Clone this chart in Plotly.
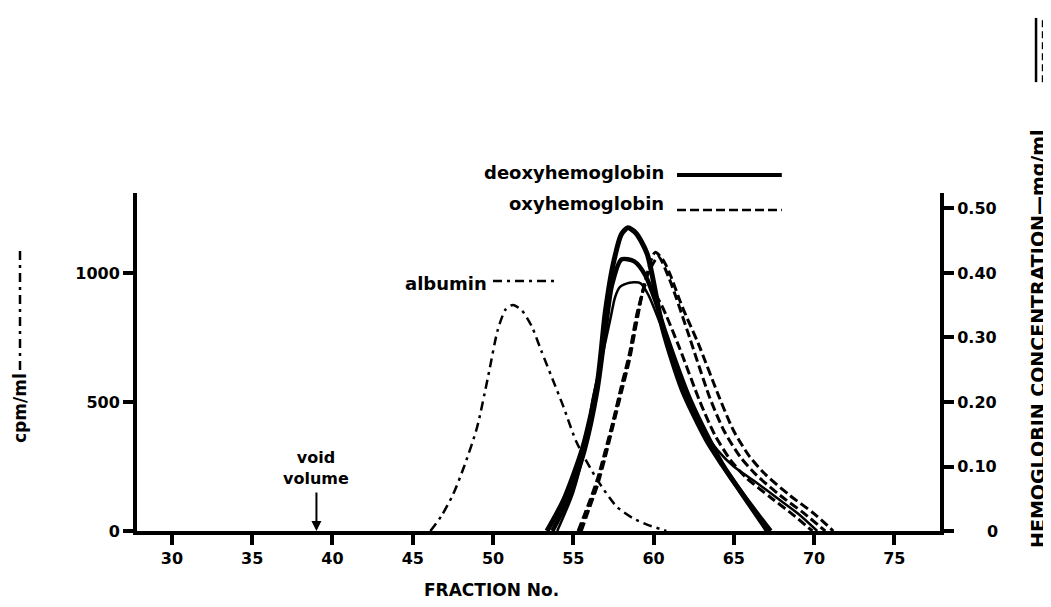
import plotly.graph_objects as go

# ---------------- data ----------------
albumin_x = [46.1, 46.8, 47.5, 48.2, 49.0, 49.7, 50.3, 50.8, 51.25, 51.8, 52.4, 53.0, 53.7, 54.4, 55.2, 56.5, 57.7, 58.7, 59.6, 60.8]
albumin_y = [0, 60, 140, 250, 400, 600, 780, 860, 876, 855, 795, 700, 590, 480, 345, 198, 95, 50, 25, 0]

deoxy1_x = [53.36, 54.4, 55.6, 56.5, 57.0, 57.5, 58.0, 58.4, 58.9, 59.6, 60.6, 61.8, 63.3, 64.3, 65.4, 67.1]
deoxy1_y = [0, 0.048, 0.13, 0.229, 0.34, 0.415, 0.46, 0.47, 0.462, 0.43, 0.311, 0.218, 0.141, 0.102, 0.062, 0]

deoxy2_x = [53.7, 54.7, 55.7, 56.5, 57.0, 57.4, 58.0, 58.8, 59.5, 60.1, 60.7, 62.3, 64.5, 67.3]
deoxy2_y = [0, 0.05, 0.125, 0.218, 0.31, 0.38, 0.421, 0.418, 0.396, 0.358, 0.311, 0.203, 0.095, 0]

deoxy3_x = [54.0, 55.0, 55.8, 56.2, 56.8, 57.3, 57.6, 57.9, 58.5, 59.2, 59.7, 60.7, 62.1, 63.0, 64.0, 65.0, 66.3, 67.6, 69.0, 70.2]
deoxy3_y = [0, 0.06, 0.14, 0.203, 0.27, 0.327, 0.362, 0.378, 0.385, 0.384, 0.365, 0.303, 0.207, 0.16, 0.125, 0.1, 0.077, 0.053, 0.027, 0]

oxy1_x = [55.5, 56.0, 56.5, 57.0, 57.5, 58.0, 58.5, 59.0, 59.5, 60.1, 60.6, 61.0, 61.8, 62.8, 64.1, 65.0, 66.0, 67.0, 68.5, 70.0, 71.2]
oxy1_y = [0, 0.035, 0.07, 0.115, 0.165, 0.215, 0.265, 0.33, 0.39, 0.432, 0.42, 0.40, 0.347, 0.29, 0.207, 0.155, 0.115, 0.087, 0.055, 0.027, 0]

oxy2_x = [55.4, 56.0, 56.5, 57.0, 57.5, 58.0, 58.5, 59.0, 59.6, 60.3, 61.0, 62.1, 63.5, 64.4, 65.4, 66.4, 67.9, 69.4, 70.7]
oxy2_y = [0, 0.04, 0.075, 0.12, 0.17, 0.22, 0.27, 0.335, 0.395, 0.425, 0.39, 0.311, 0.207, 0.155, 0.115, 0.087, 0.055, 0.027, 0]

oxy3_x = [55.3, 56.0, 56.5, 57.0, 57.5, 58.0, 58.5, 59.0, 59.6, 60.5, 61.6, 62.9, 63.8, 64.8, 65.8, 67.3, 68.7, 69.9]
oxy3_y = [0, 0.045, 0.08, 0.125, 0.172, 0.225, 0.275, 0.34, 0.385, 0.35, 0.285, 0.2, 0.15, 0.11, 0.082, 0.052, 0.025, 0]

x_ticks = [30, 35, 40, 45, 50, 55, 60, 65, 70, 75]
cpm_ticks = [0, 500, 1000]
hb_ticks = [0, 0.1, 0.2, 0.3, 0.4, 0.5]
hb_ticktext = ["", "0.10", "0.20", "0.30", "0.40", "0.50"]
void_volume_fraction = 39

FONT = "DejaVu Sans"
def f(size):
    return dict(family=FONT, size=size, color="black", weight="bold")

DASHDOT = "9px,5px,3px,5px"
DASH = "9px,4px"

fig = go.Figure()

fig.add_trace(go.Scatter(x=albumin_x, y=albumin_y, mode="lines",
                         line=dict(color="black", width=2.5, dash=DASHDOT, shape="spline", smoothing=0.7), yaxis="y"))

for xs, ys, w in [(deoxy1_x, deoxy1_y, 5), (deoxy2_x, deoxy2_y, 4.5), (deoxy3_x, deoxy3_y, 2.5)]:
    fig.add_trace(go.Scatter(x=xs, y=ys, mode="lines",
                             line=dict(color="black", width=w, shape="spline", smoothing=0.7), yaxis="y2"))

for xs, ys in [(oxy1_x, oxy1_y), (oxy2_x, oxy2_y), (oxy3_x, oxy3_y)]:
    fig.add_trace(go.Scatter(x=xs, y=ys, mode="lines",
                             line=dict(color="black", width=3, dash=DASH, shape="spline", smoothing=0.7), yaxis="y2"))

axis_common = dict(showgrid=False, zeroline=False, showline=True, linewidth=4, linecolor="black",
                   ticks="outside", ticklen=10, tickwidth=4, tickcolor="black", tickfont=f(16))

# page body adds an 8px offset, so figure is 8px smaller and margins compensate
fig.update_layout(
    width=1043, height=599,
    margin=dict(l=129, r=111, t=185, b=76),
    paper_bgcolor="white", plot_bgcolor="white",
    showlegend=False,
    xaxis=dict(range=[27.82, 77.85], tickvals=x_ticks, **axis_common),
    yaxis=dict(range=[0, 1310], tickvals=cpm_ticks, **axis_common),
    yaxis2=dict(range=[0, 0.524], tickvals=hb_ticks, ticktext=hb_ticktext,
                overlaying="y", side="right", **axis_common),
)

ann = []
ann.append(dict(x=void_volume_fraction, y=0, xref="x", yref="y", text="", showarrow=True,
                arrowhead=2, arrowsize=1, arrowwidth=2, arrowcolor="black", ax=0, ay=-40, standoff=0))
ann.append(dict(x=void_volume_fraction, y=244, xref="x", yref="y", text="void<br>volume", showarrow=False,
                font=f(16), align="center", xanchor="center", yanchor="middle"))
ann.append(dict(x=49.75, y=961, xref="x", yref="y", text="albumin", showarrow=False, font=f(18),
                xanchor="right", yanchor="middle"))
ann.append(dict(x=0.659, y=1.062, xref="paper", yref="paper", text="deoxyhemoglobin", showarrow=False,
                font=f(18), xanchor="right", yanchor="middle"))
ann.append(dict(x=0.659, y=0.970, xref="paper", yref="paper", text="oxyhemoglobin", showarrow=False,
                font=f(18), xanchor="right", yanchor="middle"))
ann.append(dict(x=1.065, y=0, xref="paper", yref="paper", text="0", showarrow=False, font=f(16),
                xanchor="center", yanchor="middle"))
ann.append(dict(x=0.442, y=-0.175, xref="paper", yref="paper", text="FRACTION No.", showarrow=False,
                font=f(17), xanchor="center", yanchor="middle"))
ann.append(dict(x=-0.1457, y=0.364, xref="paper", yref="paper", text="cpm/ml", showarrow=False,
                font=f(17), textangle=-90, xanchor="center", yanchor="middle"))
ann.append(dict(x=1.122, y=0.571, xref="paper", yref="paper", text="HEMOGLOBIN CONCENTRATION\u2014mg/ml",
                showarrow=False, font=f(19), textangle=-90, xanchor="center", yanchor="middle"))
fig.update_layout(annotations=ann)

shapes = []
shapes.append(dict(type="line", xref="x", yref="y", x0=50.0, x1=53.8, y0=969, y1=969,
                   line=dict(color="black", width=2.5, dash=DASHDOT)))
shapes.append(dict(type="line", xref="paper", yref="paper", x0=0.6725, x1=0.803, y0=1.053, y1=1.053,
                   line=dict(color="black", width=4)))
shapes.append(dict(type="line", xref="paper", yref="paper", x0=0.6725, x1=0.803, y0=0.950, y1=0.950,
                   line=dict(color="black", width=2.5, dash=DASH)))
shapes.append(dict(type="line", xref="paper", yref="paper", x0=-0.1457, x1=-0.1457, y0=0.476, y1=0.840,
                   line=dict(color="black", width=2.5, dash=DASHDOT)))
shapes.append(dict(type="line", xref="paper", yref="paper", x0=1.1196, x1=1.1196, y0=1.328, y1=1.518,
                   line=dict(color="black", width=2.5)))
shapes.append(dict(type="line", xref="paper", yref="paper", x0=1.1283, x1=1.1283, y0=1.328, y1=1.518,
                   line=dict(color="black", width=2.5, dash="7px,4px")))
fig.update_layout(shapes=shapes)

fig.write_html("out.html")
